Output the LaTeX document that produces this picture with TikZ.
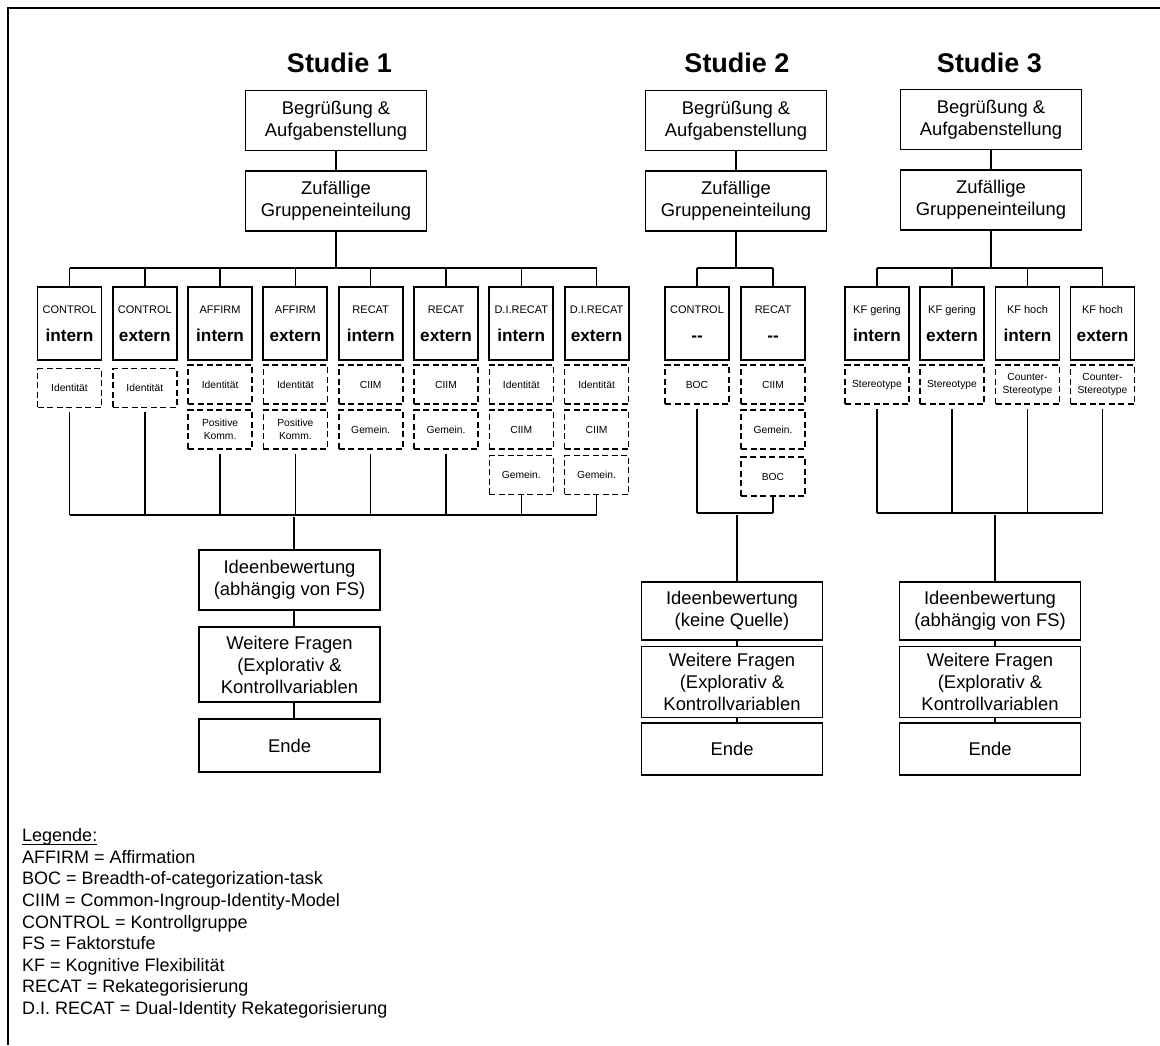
\documentclass[tikz,border=0pt]{standalone}
\usepackage{fontspec}
\setmainfont{Liberation Sans}
\begin{document}
\begin{tikzpicture}[x=1pt,y=-1pt]
\tikzset{
  stepbox/.style={draw, line width=1.4pt, minimum width=181pt, minimum height=60pt,
    inner sep=0pt, align=center, font=\fontsize{18.4}{22}\selectfont},
  grpbox/.style={draw, line width=1.9pt, minimum width=64pt, minimum height=73pt, inner sep=0pt},
  subbox/.style={draw, dash pattern=on 6pt off 3.5pt, line width=1.6pt, minimum width=64pt,
    minimum height=39pt, inner sep=0pt, align=center, font=\fontsize{10.3}{13}\selectfont},
  grptop/.style={anchor=base, inner sep=0pt, font=\fontsize{11}{13}\selectfont},
  grpmain/.style={anchor=base, inner sep=0pt, font=\fontsize{17.2}{20}\selectfont\bfseries},
  studytitle/.style={anchor=base, inner sep=0pt, font=\fontsize{27}{32}\selectfont\bfseries},
  link/.style={line width=1.5pt},
  legline/.style={anchor=base west, inner sep=0pt, font=\fontsize{18}{21}\selectfont},
}
\useasboundingbox (0,0) rectangle (1160,1045);

% frame (top and left edge)
\draw[line width=2.4pt] (8,1045) -- (8,8) -- (1160,8);

% ---------------- Studie 1 ----------------
\node[studytitle] (t1) at (339.5,72) {Studie 1};
\node[stepbox] (beg1) at (336,120.5) {Begrüßung \&\\Aufgabenstellung};
\node[stepbox] (zuf1) at (336,201) {Zufällige\\Gruppeneinteilung};
\draw[link] (beg1) -- (zuf1);
\coordinate (top1) at (336,268);

\foreach \n/\x/\a/\b in {1/69.5/CONTROL/intern, 2/144.8/CONTROL/extern,
    3/220.1/AFFIRM/intern, 4/295.4/AFFIRM/extern, 5/370.7/RECAT/intern,
    6/446/RECAT/extern, 7/521.3/D.I.RECAT/intern, 8/596.6/D.I.RECAT/extern}{
  \node[grpbox] (s1g\n) at (\x,323.5) {};
  \node[grptop] (s1g\n t) at (\x,313) {\a};
  \node[grpmain] (s1g\n m) at (\x,341) {\b};
}
\draw[link] (zuf1) -- (top1);
\draw[link] (s1g1 |- top1) -- (s1g8 |- top1);
\foreach \n in {1,...,8}{\draw[link] (s1g\n |- top1) -- (s1g\n.north);}

% treatment components
\node[subbox] (s1d1a) at (69.5,388) {Identität};
\node[subbox] (s1d2a) at (144.8,388) {Identität};
\node[subbox] (s1d3a) at (220.1,384.5) {Identität};
\node[subbox] (s1d3b) at (220.1,429.5) {Positive\\Komm.};
\node[subbox] (s1d4a) at (295.4,384.5) {Identität};
\node[subbox] (s1d4b) at (295.4,429.5) {Positive\\Komm.};
\node[subbox] (s1d5a) at (370.7,384.5) {CIIM};
\node[subbox] (s1d5b) at (370.7,429.5) {Gemein.};
\node[subbox] (s1d6a) at (446,384.5) {CIIM};
\node[subbox] (s1d6b) at (446,429.5) {Gemein.};
\node[subbox] (s1d7a) at (521.3,384.5) {Identität};
\node[subbox] (s1d7b) at (521.3,429.5) {CIIM};
\node[subbox] (s1d7c) at (521.3,475) {Gemein.};
\node[subbox] (s1d8a) at (596.6,384.5) {Identität};
\node[subbox] (s1d8b) at (596.6,429.5) {CIIM};
\node[subbox] (s1d8c) at (596.6,475) {Gemein.};

\coordinate (bot1) at (294,515);
\draw[link] (s1g1 |- bot1) -- (s1g8 |- bot1);
\foreach \d in {s1d1a,s1d2a,s1d3b,s1d4b,s1d5b,s1d6b}{
  \draw[link, shorten <=4pt] (\d.south) -- (\d |- bot1);}
\foreach \d in {s1d7c,s1d8c}{\draw[link] (\d.south) -- (\d |- bot1);}

\node[stepbox] (ide1) at (289.5,580) {Ideenbewertung\\(abhängig von FS)};
\node[stepbox, minimum height=75pt] (wf1) at (289.5,664.5) {Weitere Fragen\\(Explorativ \&\\Kontrollvariablen};
\node[stepbox, minimum height=53pt] (end1) at (289.5,745.5) {Ende};
\draw[link, shorten <=2pt] (bot1) -- (bot1 |- ide1.north);
\draw[link] (bot1 |- ide1.south) -- (bot1 |- wf1.north);
\draw[link] (bot1 |- wf1.south) -- (bot1 |- end1.north);

% ---------------- Studie 2 ----------------
\node[studytitle] (t2) at (737,72) {Studie 2};
\node[stepbox] (beg2) at (736,120.5) {Begrüßung \&\\Aufgabenstellung};
\node[stepbox] (zuf2) at (736,201) {Zufällige\\Gruppeneinteilung};
\draw[link] (beg2) -- (zuf2);
\coordinate (top2) at (736,268);
\foreach \n/\x/\a in {1/697/CONTROL, 2/773/RECAT}{
  \node[grpbox] (s2g\n) at (\x,323.5) {};
  \node[grptop] (s2g\n t) at (\x,313) {\a};
  \node[grpmain] (s2g\n m) at (\x,341) {-{}-};
}
\draw[link] (zuf2) -- (top2);
\draw[link] (s2g1 |- top2) -- (s2g2 |- top2);
\foreach \n in {1,2}{\draw[link] (s2g\n |- top2) -- (s2g\n.north);}

\node[subbox] (s2d1a) at (697,384.5) {BOC};
\node[subbox] (s2d2a) at (773,384.5) {CIIM};
\node[subbox] (s2d2b) at (773,429.5) {Gemein.};
\node[subbox] (s2d2c) at (773,476.5) {BOC};

\coordinate (bot2) at (737,513);
\draw[link] (s2g1 |- bot2) -- (s2g2 |- bot2);
\draw[link, shorten <=4pt] (s2d1a.south) -- (s2d1a |- bot2);
\draw[link] (s2d2c.south) -- (s2d2c |- bot2);

\node[stepbox, minimum height=58pt] (ide2) at (732,611) {Ideenbewertung\\(keine Quelle)};
\node[stepbox, minimum height=71pt] (wf2) at (732,682) {Weitere Fragen\\(Explorativ \&\\Kontrollvariablen};
\node[stepbox, minimum height=52pt] (end2) at (732,749) {Ende};
\draw[link, shorten <=2pt] (bot2) -- (bot2 |- ide2.north);
\draw[link] (bot2 |- ide2.south) -- (bot2 |- wf2.north);
\draw[link] (bot2 |- wf2.south) -- (bot2 |- end2.north);

% ---------------- Studie 3 ----------------
\node[studytitle] (t3) at (989.5,72) {Studie 3};
\node[stepbox] (beg3) at (991,119.5) {Begrüßung \&\\Aufgabenstellung};
\node[stepbox] (zuf3) at (991,200) {Zufällige\\Gruppeneinteilung};
\draw[link] (beg3) -- (zuf3);
\coordinate (top3) at (991,268);
\foreach \n/\x/\a/\b in {1/877/KF gering/intern, 2/952/KF gering/extern,
    3/1027.5/KF hoch/intern, 4/1102.5/KF hoch/extern}{
  \node[grpbox] (s3g\n) at (\x,323.5) {};
  \node[grptop] (s3g\n t) at (\x,313) {\a};
  \node[grpmain] (s3g\n m) at (\x,341) {\b};
}
\draw[link] (zuf3) -- (top3);
\draw[link] (s3g1 |- top3) -- (s3g4 |- top3);
\foreach \n in {1,...,4}{\draw[link] (s3g\n |- top3) -- (s3g\n.north);}

\node[subbox] (s3d1a) at (877,384.5) {Stereotype};
\node[subbox] (s3d2a) at (952,384.5) {Stereotype};
\node[subbox] (s3d3a) at (1027.5,384.5) {Counter-\\Stereotype};
\node[subbox] (s3d4a) at (1102.5,384.5) {Counter-\\Stereotype};

\coordinate (bot3) at (995,513);
\draw[link] (s3g1 |- bot3) -- (s3g4 |- bot3);
\foreach \d in {s3d1a,s3d2a,s3d3a,s3d4a}{
  \draw[link, shorten <=4pt] (\d.south) -- (\d |- bot3);}

\node[stepbox, minimum height=58pt] (ide3) at (990,611) {Ideenbewertung\\(abhängig von FS)};
\node[stepbox, minimum height=71pt] (wf3) at (990,682) {Weitere Fragen\\(Explorativ \&\\Kontrollvariablen};
\node[stepbox, minimum height=52pt] (end3) at (990,749) {Ende};
\draw[link, shorten <=2pt] (bot3) -- (bot3 |- ide3.north);
\draw[link] (bot3 |- ide3.south) -- (bot3 |- wf3.north);
\draw[link] (bot3 |- wf3.south) -- (bot3 |- end3.north);

% ---------------- legend ----------------
\node[legline] (leghead) at (22,841.7) {Legende:};
\draw[line width=1.1pt] ([yshift=-2.6pt]leghead.base west) -- ([yshift=-2.6pt]leghead.base east);
\foreach \i/\t in {0/AFFIRM = Affirmation, 1/BOC = Breadth-of-categorization-task,
    2/CIIM = Common-Ingroup-Identity-Model, 3/CONTROL = Kontrollgruppe,
    4/FS = Faktorstufe, 5/KF = Kognitive Flexibilität, 6/RECAT = Rekategorisierung,
    7/D.I. RECAT = Dual-Identity Rekategorisierung}{
  \node[legline] (leg\i) at (22,863.3+21.6*\i) {\t};
}
\end{tikzpicture}
\end{document}
